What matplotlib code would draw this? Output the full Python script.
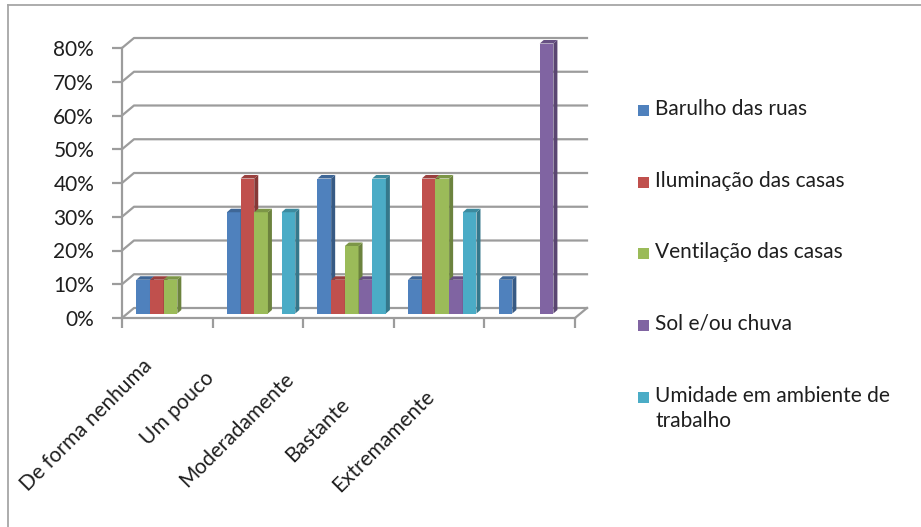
import matplotlib
matplotlib.use("Agg")
import matplotlib.pyplot as plt
import matplotlib.transforms as mtransforms
from matplotlib.patches import Polygon, Rectangle
from matplotlib.colors import to_rgb

plt.rcParams['font.family'] = ['Lato', 'DejaVu Sans']

# data (percent of answers)
categories = ['De forma nenhuma', 'Um pouco', 'Moderadamente', 'Bastante', 'Extremamente']
series_names = ['Barulho das ruas', 'Iluminação das casas', 'Ventilação das casas',
                'Sol e/ou chuva', 'Umidade em ambiente de\ntrabalho']
barulho = [10, 30, 40, 10, 10]
iluminacao = [10, 40, 10, 40, 0]
ventilacao = [10, 30, 20, 40, 0]
sol_chuva = [0, 0, 10, 10, 80]
umidade = [0, 30, 40, 30, 0]
y_ticks = [0, 10, 20, 30, 40, 50, 60, 70, 80]

series = [barulho, iluminacao, ventilacao, sol_chuva, umidade]
colors = ['#4F81BD', '#C0504D', '#9BBB59', '#8064A2', '#4BACC6']
grid_color = '#9C9C9C'
text_color = '#1E1E1E'
fsize = 15

W, H = 921, 527
fig = plt.figure(figsize=(W / 100, H / 100), dpi=100)
ax = fig.add_axes([122 / W, 209 / H, 453 / W, 270 / H])
ax.set_xlim(0, len(categories))
ax.set_ylim(0, 80)

# pixel -> data unit factors (axes is 453 x 270 px)
xpp = len(categories) / 453
ypp = 80 / 270

# 3d depth of the walls and of the bars
wdx, wdy = 12 * xpp, 10 * ypp
bdx, bdy = 5 * xpp, 4.5 * ypp
ddx, ddy = 4 * xpp, 3.5 * ypp


def shade(c, f):
    r, g, b = to_rgb(c)
    return (r * f, g * f, b * f)


# back wall gridlines with the little diagonal on the left wall
for t in y_ticks:
    ax.plot([0, wdx, len(categories) + wdx], [t, t + wdy, t + wdy],
            color=grid_color, lw=1.6, clip_on=False, zorder=1)
# right edge of the floor
ax.plot([len(categories), len(categories) + wdx], [0, wdy],
        color=grid_color, lw=1.6, clip_on=False, zorder=1)

# bars
width = 0.151
shift = -0.02
z = 3
for i in range(len(categories)):
    for j, vals in enumerate(series):
        h = vals[i]
        if h == 0:
            continue
        x0 = i + 0.5 + shift - 2.5 * width + j * width + bdx
        x1 = x0 + width
        b0 = bdy
        ax.bar(x0, h, width=width, bottom=b0, align='edge', color=colors[j],
               linewidth=0, clip_on=False, zorder=z)
        side = Polygon([(x1, b0), (x1 + ddx, b0 + ddy), (x1 + ddx, b0 + h + ddy), (x1, b0 + h)],
                       closed=True, facecolor=shade(colors[j], 0.7), linewidth=0,
                       clip_on=False, zorder=z)
        top = Polygon([(x0, b0 + h), (x1, b0 + h), (x1 + ddx, b0 + h + ddy), (x0 + ddx, b0 + h + ddy)],
                      closed=True, facecolor=shade(colors[j], 0.8), linewidth=0,
                      clip_on=False, zorder=z)
        ax.add_patch(side)
        ax.add_patch(top)
        z += 1

# axes lines and ticks
for s in ['top', 'right']:
    ax.spines[s].set_visible(False)
for s in ['left', 'bottom']:
    ax.spines[s].set_color(grid_color)
    ax.spines[s].set_linewidth(1.6)
    ax.spines[s].set_zorder(2)
ax.set_yticks(y_ticks)
ax.set_yticklabels([f'{t}%' for t in y_ticks])
ax.set_xticks(range(len(categories) + 1))
ax.set_xticklabels([])
ax.tick_params(axis='both', direction='out', length=7, width=1.6, color=grid_color)
ax.tick_params(axis='y', pad=13, labelsize=fsize, labelcolor=text_color)
ax.set_facecolor('none')

# category labels (Excel puts them a bit irregularly, offsets in px)
label_offsets = [(-81, 107), (-80, 90), (-112, 112), (-122, 112), (-146, 123)]
for i, (name, (ox, oy)) in enumerate(zip(categories, label_offsets)):
    tr = ax.transData + mtransforms.ScaledTranslation(ox / 100, -oy / 100, fig.dpi_scale_trans)
    ax.text(i + 0.5, 0, name, transform=tr, rotation=45, ha='center', va='center',
            fontsize=fsize, color=text_color)

# legend drawn by hand
leg_y = [110, 182, 253, 325, 397]
for name, c, y in zip(series_names, colors, leg_y):
    fig.patches.append(Rectangle((638 / W, 1 - (y + 6) / H), 11 / W, 11 / H,
                                 transform=fig.transFigure, facecolor=c, edgecolor='none'))
    fig.text(655 / W, 1 - (y - 11) / H, name, ha='left', va='top', fontsize=fsize,
             color=text_color, linespacing=1.3)

# outer chart border (cut off at the right and bottom)
fig.add_artist(plt.Line2D([8 / W, 1], [1 - 5 / H, 1 - 5 / H], transform=fig.transFigure,
                          color='#A6A6A6', lw=1.3))
fig.add_artist(plt.Line2D([8 / W, 8 / W], [1 - 5 / H, 0], transform=fig.transFigure,
                          color='#A6A6A6', lw=1.3))

fig.savefig('out.png', dpi=100, facecolor='white')
